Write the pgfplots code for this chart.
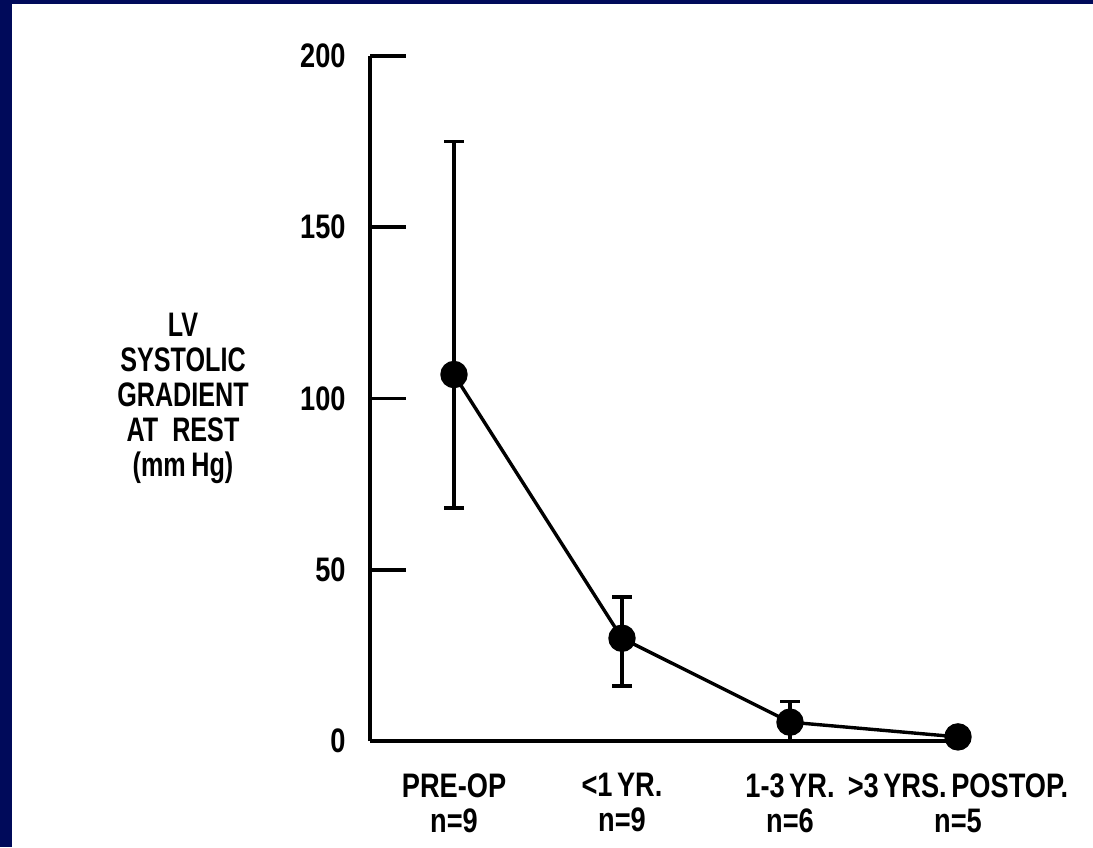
\documentclass[border=0pt]{standalone}
\usepackage{fontspec}
\setmainfont{Liberation Sans}[FakeStretch=0.8, WordSpace=0.6]
\newfontfamily\ylabfont{Liberation Sans}[FakeStretch=0.74]
\usepackage{pgfplots}
\pgfplotsset{compat=1.18}
\definecolor{slidenavy}{RGB}{0,10,90}

\begin{document}
\begin{tikzpicture}
\useasboundingbox (0,0) rectangle (546.5pt,423.5pt);
\fill[slidenavy] (0,0) rectangle (546.5pt,423.5pt);
\fill[white] (6pt,0) rectangle (546.5pt,421.5pt);
\begin{axis}[
    at={(185pt,53pt)}, anchor=south west,
    scale only axis,
    width=294pt, height=342.5pt,
    xmin=0.5, xmax=4,
    ymin=0, ymax=200,
    clip=false,
    axis x line=bottom,
    axis y line=left,
    every axis/.append style={line width=1.8pt},
    axis line style={-, black, line width=1.8pt},
    xtick={1,2,3,4},
    xticklabels={{PRE-OP\\n=9},{<1 YR.\\n=9},{1-3 YR.\\n=6},{>3 YRS. POSTOP.\\n=5}},
    xticklabel style={align=center, yshift=-12pt},
    x tick style={draw=none},
    ytick={0,50,100,150,200},
    yticklabel style={xshift=-8pt},
    y tick style={black, line width=1.8pt},
    tick align=inside,
    major tick length=18pt,
    /pgf/number format/assume math mode=true,
    every tick label/.append style={font=\fontsize{17}{17.5}\selectfont\bfseries},
    ylabel={LV\\SYSTOLIC\\GRADIENT\\AT\ \ REST\\(mm\,Hg)},
    every axis y label/.style={at={(axis description cs:-0.318,0.5)},
        anchor=center, align=center,
        font=\ylabfont\fontsize{17}{17.4}\selectfont\bfseries},
]
\addplot[
    black, line width=1.7pt,
    mark=*, mark size=6pt,
    mark options={fill=black},
    error bars/.cd,
    y dir=both, y explicit,
    error bar style={line width=1.8pt},
    error mark options={rotate=90, mark size=5pt, line width=1.8pt},
]
coordinates {
    (1,107) += (0,68) -= (0,39)
    (2,30) += (0,12) -= (0,14)
    (3,5.5) += (0,6) -= (0,5.5)
    (4,1.2) += (0,0) -= (0,0)
};
\end{axis}
\end{tikzpicture}
\end{document}
